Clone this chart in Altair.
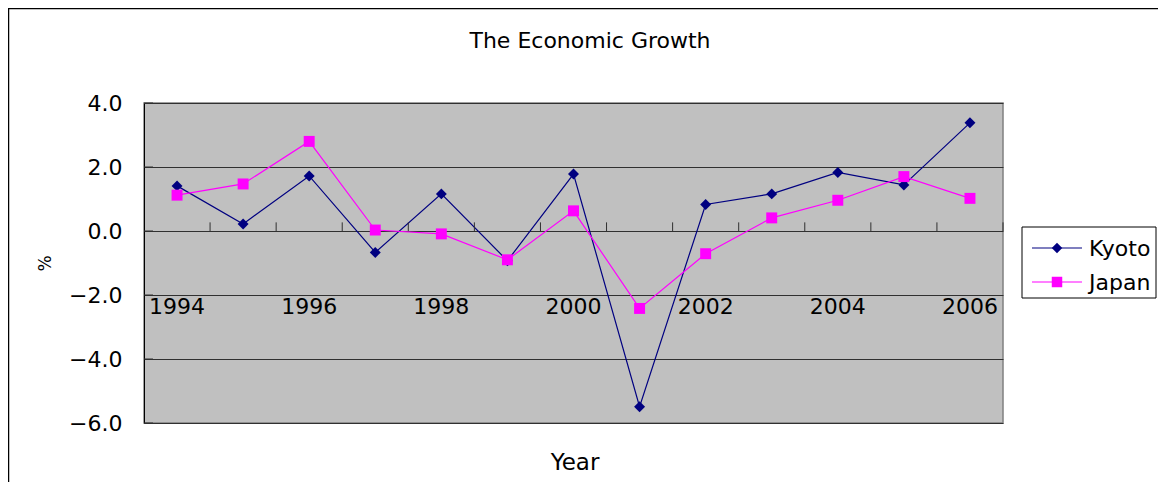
import altair as alt
import pandas as pd

years = list(range(1994, 2007))
kyoto = [1.41, 0.22, 1.72, -0.67, 1.16, -0.93, 1.78, -5.49, 0.83, 1.16, 1.83, 1.44, 3.38]
japan = [1.12, 1.47, 2.80, 0.03, -0.09, -0.90, 0.63, -2.42, -0.71, 0.41, 0.96, 1.70, 1.02]
series = ["Kyoto", "Japan"]
colors = ["#000080", "#FF00FF"]
shapes = ["diamond", "square"]
label_years = [1994, 1996, 1998, 2000, 2002, 2004, 2006]
y_ticks = [-6, -4, -2, 0, 2, 4]
boundaries = [y + 0.5 for y in years]

FONT = "DejaVu Sans"
W, H = 859, 320
LEFT, TOP = 136, 95
TOTAL_W, TOTAL_H = 1150, 474

df = pd.DataFrame({
    "Year": years * 2,
    "Value": kyoto + japan,
    "Series": ["Kyoto"] * len(years) + ["Japan"] * len(years),
})

xs = alt.Scale(domain=[1993.5, 2006.5], nice=False, zero=False)
ys = alt.Scale(domain=[-6, 4], nice=False, zero=False)
cs = alt.Scale(domain=series, range=colors)
ss = alt.Scale(domain=series, range=shapes)

yaxis = alt.Axis(values=y_ticks, format=".1f", labelFontSize=22, labelFont=FONT,
                 labelColor="black", labelPadding=22, ticks=False,
                 grid=True, gridColor="#303030", gridOpacity=1,
                 domainColor="black", title="%", titleFont=FONT, titleFontSize=17,
                 titleFontWeight="normal", titleColor="black", titleX=-99, titleY=160,
                 titleAlign="center", titleBaseline="middle")

base = alt.Chart(df)

lines = base.mark_line(strokeWidth=1.2).encode(
    x=alt.X("Year:Q", scale=xs, axis=None),
    y=alt.Y("Value:Q", scale=ys, axis=yaxis),
    color=alt.Color("Series:N", scale=cs, legend=None),
    detail="Series:N",
)
points = base.mark_point(filled=True, opacity=1, size=120).encode(
    x=alt.X("Year:Q", scale=xs),
    y=alt.Y("Value:Q", scale=ys),
    color=alt.Color("Series:N", scale=cs, legend=None),
    shape=alt.Shape("Series:N", scale=ss, legend=None),
)

bdf = pd.DataFrame({"b": boundaries})
cat_ticks = alt.Chart(bdf).mark_rule(color="#303030", strokeWidth=1).encode(
    x=alt.X("b:Q", scale=xs),
    y=alt.datum(0),
    y2=alt.datum(0.27),
)

ydf = pd.DataFrame({"t": y_ticks})
y_in_ticks = alt.Chart(ydf).mark_rule(color="#303030").encode(
    x=alt.value(0), x2=alt.value(9), y=alt.Y("t:Q", scale=ys)
)

ldf = pd.DataFrame({"Year": label_years})
xlabels = alt.Chart(ldf).mark_text(font=FONT, fontSize=22, baseline="top", dy=2,
                                   color="black").encode(
    x=alt.X("Year:Q", scale=xs),
    y=alt.datum(-2),
    text=alt.Text("Year:Q", format="d"),
)

one = pd.DataFrame({"k": [0]})
title = alt.Chart(one).mark_text(text="The Economic Growth", font=FONT, fontSize=22,
                                 baseline="middle", align="center", color="black").encode(
    x=alt.value(446), y=alt.value(-62))
xtitle = alt.Chart(one).mark_text(text="Year", font=FONT, fontSize=23,
                                  baseline="middle", align="center", color="black").encode(
    x=alt.value(431), y=alt.value(360))
border_top = alt.Chart(one).mark_rule(color="black", strokeWidth=1.5).encode(
    x=alt.value(-LEFT), x2=alt.value(1100), y=alt.value(-TOP + 0.5))
border_left = alt.Chart(one).mark_rule(color="black", strokeWidth=1.5).encode(
    x=alt.value(-LEFT + 0.5), y=alt.value(-TOP), y2=alt.value(500))

legend_box = alt.Chart(one).mark_rect(fill="white", stroke="black", strokeWidth=1).encode(
    x=alt.value(878), x2=alt.value(1012), y=alt.value(124), y2=alt.value(195))

leg_layers = []
for i, name in enumerate(series):
    yy = 145 + i * 34
    leg_layers.append(alt.Chart(one).mark_rule(color=colors[i], strokeWidth=1.2).encode(
        x=alt.value(888), x2=alt.value(938), y=alt.value(yy)))
    leg_layers.append(alt.Chart(one).mark_point(shape=shapes[i], filled=True, opacity=1,
                                                size=110, color=colors[i]).encode(
        x=alt.value(913), y=alt.value(yy)))
    leg_layers.append(alt.Chart(one).mark_text(text=name, font=FONT, fontSize=22,
                                               align="left", baseline="middle",
                                               color="black").encode(
        x=alt.value(945), y=alt.value(yy + 1)))

chart = alt.layer(
    border_top, border_left, lines, cat_ticks, y_in_ticks, points, xlabels, title, xtitle,
    legend_box, *leg_layers
).properties(
    width=W, height=H,
    padding={"left": LEFT, "top": TOP, "right": TOTAL_W - LEFT - W, "bottom": TOTAL_H - TOP - H},
    autosize=alt.AutoSizeParams(type="none"),
    background="white",
).configure_view(
    fill="#C0C0C0", stroke="#808080", strokeWidth=1.5
)

chart.save("out.html", embed_options={"renderer": "svg", "actions": False})
